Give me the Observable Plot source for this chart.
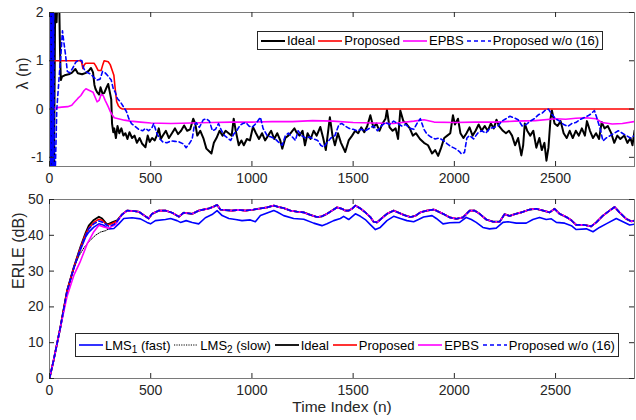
<!DOCTYPE html>
<html><head><meta charset="utf-8">
<script src="https://cdn.jsdelivr.net/npm/d3@7"></script>
<script src="https://cdn.jsdelivr.net/npm/@observablehq/plot@0.6"></script>
<style>
body{margin:0;background:#fff;}
#wrap{position:relative;width:636px;height:420px;font-family:"Liberation Sans",Arial,sans-serif;overflow:hidden;}
#wrap > svg{position:absolute;left:0;}
.legend{position:absolute;display:flex;align-items:center;justify-content:space-between;background:#fff;border:1px solid #262626;box-sizing:border-box;font-size:13px;color:#000;padding:0 3px;white-space:nowrap;}
.item{display:flex;align-items:center;}
.item svg{position:static;margin-right:2px;}
sub{font-size:10px;vertical-align:-3px;line-height:0;}
</style></head>
<body><div id="wrap"></div>
<script>
// ---------- axis ticks ----------
const xTicks = [0, 500, 1000, 1500, 2000, 2500];
const lambdaTicks = [-1, 0, 1, 2];
const erleTicks = [0, 10, 20, 30, 40, 50];

// ---------- top panel: lambda(n) ----------
const lambdaIdeal = [[0,0.5],[3,2.5],[6,-1.5],[9,2.5],[12,-1.5],[15,2.5],[18,-1.5],[22,-1.5],[28,2.3],[35,1.8],[40,2.4],[48,2.2],[52,1.2],[56,0.6],[62,0.67],[75,0.7],[95,0.72],[110,0.75],[128,0.83],[140,0.74],[161,0.72],[180,0.75],[195,0.8],[205,0.85],[215,0.76],[222,0.5],[227,0.42],[235,0.35],[245,0.3],[252,0.45],[262,0.32],[270,0.33],[282,0.45],[290,0.52],[298,0.35],[305,0.2],[309,-0.3],[315,-0.48],[320,-0.4],[328,-0.6],[336,-0.35],[345,-0.5],[355,-0.4],[365,-0.55],[375,-0.5],[385,-0.62],[395,-0.48],[408,-0.6],[420,-0.55],[432,-0.7],[445,-0.6],[458,-0.72],[474,-0.79],[485,-0.55],[495,-0.68],[507,-0.6],[520,-0.65],[530,-0.55],[540,-0.4],[550,-0.62],[560,-0.55],[575,-0.45],[590,-0.6],[605,-0.5],[620,-0.4],[635,-0.52],[650,-0.45],[665,-0.34],[680,-0.45],[695,-0.42],[710,-0.2],[720,-0.3],[730,-0.55],[745,-0.45],[760,-0.6],[775,-0.82],[790,-0.88],[800,-0.92],[812,-0.7],[825,-0.6],[840,-0.45],[855,-0.55],[870,-0.45],[885,-0.5],[900,-0.55],[910,-0.2],[920,-0.45],[935,-0.75],[948,-0.65],[960,-0.75],[975,-0.62],[990,-0.65],[1005,-0.37],[1020,-0.5],[1035,-0.62],[1050,-0.5],[1065,-0.65],[1080,-0.55],[1095,-0.45],[1110,-0.62],[1125,-0.5],[1140,-0.65],[1150,-0.82],[1165,-0.6],[1180,-0.55],[1195,-0.48],[1210,-0.4],[1220,-0.48],[1235,-0.55],[1250,-0.45],[1262,-0.75],[1275,-0.5],[1290,-0.62],[1305,-0.45],[1320,-0.55],[1338,-0.37],[1352,-0.6],[1365,-0.85],[1385,-0.17],[1398,-0.55],[1410,-0.75],[1425,-0.5],[1440,-0.7],[1461,-0.89],[1478,-0.65],[1495,-0.55],[1510,-0.45],[1525,-0.5],[1540,-0.38],[1555,-0.48],[1570,-0.35],[1585,-0.13],[1600,-0.38],[1615,-0.3],[1630,-0.45],[1645,-0.3],[1660,-0.2],[1667,-0.02],[1680,-0.38],[1695,-0.45],[1710,-0.4],[1722,-0.62],[1733,-0.03],[1748,-0.25],[1762,-0.3],[1780,-0.4],[1795,-0.55],[1810,-0.5],[1830,-0.62],[1850,-0.7],[1870,-0.75],[1890,-0.92],[1905,-0.85],[1920,-0.97],[1935,-0.8],[1950,-0.6],[1965,-0.55],[1980,-0.5],[1993,-0.13],[2003,-0.32],[2018,-0.2],[2030,-0.5],[2045,-0.6],[2060,-0.5],[2075,-0.38],[2090,-0.55],[2105,-0.45],[2120,-0.32],[2135,-0.45],[2150,-0.35],[2165,-0.45],[2180,-0.3],[2195,-0.4],[2208,-0.22],[2220,-0.35],[2240,-0.45],[2255,-0.5],[2270,-0.45],[2285,-0.55],[2300,-0.75],[2315,-0.6],[2331,-0.96],[2340,-0.75],[2348,-0.3],[2360,-0.45],[2375,-0.55],[2390,-0.45],[2405,-0.8],[2420,-0.6],[2432,-0.85],[2445,-0.7],[2455,-1.07],[2465,-0.8],[2475,-0.2],[2482,-0.03],[2495,-0.3],[2510,-0.35],[2525,-0.25],[2540,-0.5],[2555,-0.6],[2570,-0.45],[2585,-0.6],[2600,-0.45],[2615,-0.55],[2630,-0.4],[2645,-0.55],[2655,-0.25],[2670,-0.45],[2685,-0.6],[2700,-0.5],[2715,-0.62],[2728,-0.27],[2742,-0.4],[2758,-0.35],[2775,-0.5],[2790,-0.7],[2805,-0.55],[2820,-0.62],[2840,-0.55],[2855,-0.7],[2870,-0.6],[2880,-0.75],[2890,-0.45]];

const lambdaProposed = [[0,1],[150,1],[158,0.98],[165,0.84],[172,0.92],[180,0.95],[220,0.95],[228,0.9],[240,0.8],[255,0.8],[262,0.9],[270,1.0],[290,0.98],[300,0.92],[310,0.8],[318,0.7],[325,0.4],[332,0.15],[340,0.07],[350,0.02],[360,0],[2890,0]];

const lambdaEPBS = [[0,-0.15],[10,-0.05],[20,0.0],[40,0.03],[60,0.04],[90,0.05],[110,0.08],[125,0.15],[140,0.22],[155,0.28],[170,0.38],[180,0.42],[190,0.4],[200,0.38],[215,0.35],[225,0.25],[235,0.15],[245,0.18],[255,0.3],[265,0.28],[275,0.18],[290,0.05],[300,-0.05],[310,-0.12],[320,-0.18],[340,-0.2],[370,-0.23],[400,-0.25],[450,-0.27],[500,-0.29],[600,-0.3],[700,-0.29],[800,-0.28],[900,-0.27],[1000,-0.27],[1100,-0.26],[1200,-0.26],[1300,-0.24],[1400,-0.25],[1500,-0.28],[1600,-0.29],[1700,-0.3],[1800,-0.25],[1850,-0.22],[1900,-0.27],[2000,-0.28],[2100,-0.27],[2200,-0.27],[2300,-0.25],[2400,-0.24],[2500,-0.2],[2550,-0.21],[2600,-0.19],[2650,-0.18],[2700,-0.2],[2730,-0.28],[2780,-0.31],[2830,-0.3],[2890,-0.26]];

const lambdaNo16 = [[0,-1.5],[2,2.5],[5,-1.5],[8,2.5],[11,-1.5],[14,2.5],[17,-1.5],[20,2.5],[23,-1.5],[28,-1.4],[36,0.0],[44,0.45],[50,0.8],[56,1.1],[64,1.62],[72,1.35],[80,1.1],[88,0.78],[100,0.75],[115,0.85],[130,0.97],[145,1.02],[160,1.0],[168,0.85],[178,0.78],[190,0.75],[205,0.72],[220,0.65],[235,0.6],[250,0.62],[262,0.78],[275,0.75],[290,0.68],[305,0.6],[315,0.42],[325,0.35],[335,0.22],[350,0.15],[365,0.05],[380,-0.05],[392,-0.2],[405,-0.3],[420,-0.35],[440,-0.42],[460,-0.45],[474,-0.4],[490,-0.45],[507,-0.38],[515,-0.3],[530,-0.5],[545,-0.62],[560,-0.68],[580,-0.7],[600,-0.66],[620,-0.67],[640,-0.68],[660,-0.72],[675,-0.8],[690,-0.72],[705,-0.62],[715,-0.35],[725,-0.28],[740,-0.38],[760,-0.22],[775,-0.2],[790,-0.25],[805,-0.45],[820,-0.42],[835,-0.3],[850,-0.45],[865,-0.55],[880,-0.6],[895,-0.65],[910,-0.52],[925,-0.45],[940,-0.34],[955,-0.3],[970,-0.28],[985,-0.35],[1000,-0.38],[1020,-0.3],[1042,-0.17],[1055,-0.4],[1075,-0.55],[1095,-0.58],[1115,-0.62],[1130,-0.68],[1150,-0.75],[1165,-0.55],[1180,-0.5],[1200,-0.58],[1215,-0.65],[1228,-0.45],[1245,-0.55],[1265,-0.6],[1285,-0.58],[1305,-0.62],[1325,-0.65],[1340,-0.75],[1355,-0.79],[1370,-0.7],[1390,-0.6],[1410,-0.55],[1430,-0.32],[1445,-0.3],[1460,-0.35],[1480,-0.4],[1500,-0.42],[1520,-0.45],[1540,-0.42],[1560,-0.45],[1580,-0.4],[1600,-0.35],[1620,-0.45],[1640,-0.35],[1660,-0.28],[1680,-0.32],[1700,-0.25],[1720,-0.3],[1740,-0.35],[1760,-0.32],[1780,-0.4],[1800,-0.42],[1815,-0.3],[1832,-0.2],[1850,-0.42],[1865,-0.52],[1885,-0.58],[1905,-0.62],[1925,-0.6],[1945,-0.65],[1965,-0.72],[1985,-0.78],[2005,-0.82],[2025,-0.88],[2035,-0.93],[2050,-0.9],[2062,-0.6],[2075,-0.55],[2095,-0.62],[2115,-0.5],[2135,-0.45],[2155,-0.5],[2175,-0.4],[2195,-0.38],[2215,-0.35],[2235,-0.25],[2255,-0.2],[2275,-0.15],[2295,-0.18],[2315,-0.22],[2335,-0.35],[2355,-0.32],[2375,-0.25],[2395,-0.2],[2415,-0.12],[2435,-0.08],[2450,-0.02],[2465,0.0],[2480,-0.1],[2500,-0.2],[2520,-0.25],[2540,-0.32],[2560,-0.36],[2580,-0.3],[2600,-0.28],[2620,-0.22],[2640,-0.18],[2660,-0.14],[2675,-0.1],[2692,-0.03],[2705,-0.2],[2720,-0.4],[2734,-0.66],[2750,-0.6],[2770,-0.55],[2790,-0.5],[2810,-0.45],[2830,-0.5],[2850,-0.55],[2870,-0.6],[2890,-0.55]];

// ---------- bottom panel: ERLE (dB) ----------
const erleIdealEarly = [[0,0],[20,5],[54,14.4],[87,24.6],[120,31.1],[153,36.8],[178,40.6],[194,42.7],[219,44.3],[244,45.2],[260,44.7],[285,43.0],[309,43.6],[334,44.2]];
const erleProposedEarly = [[0,0],[20,5],[54,14.4],[87,24.6],[120,31.0],[153,36.5],[178,40.2],[194,42.0],[219,43.6],[244,44.5],[260,44.2],[285,42.8],[309,43.3],[334,44.0]];
const erleEPBSEarly = [[0,0],[20,5],[54,14.3],[87,23.0],[120,28.8],[153,32.8],[186,37.6],[219,41.0],[244,42.8],[268,42.3],[293,42.0],[326,43.0]];
const erleNo16Early = [[0,0],[20,5],[54,14.4],[87,24.5],[120,30.9],[153,36.3],[178,39.8],[194,41.8],[219,43.2],[244,44.0],[268,43.5],[293,42.5],[318,43.0],[334,43.9]];
const erleLMS2Early = [[0,0],[20,5],[54,14.4],[87,24.6],[120,31.0],[145,34.2],[170,36.5],[194,38.2],[227,40.0],[252,40.9],[277,41.3],[293,41.8],[309,42.7],[334,44.1]];
const erleLate = [[358,45.8],[383,46.9],[408,46.8],[441,46.6],[474,45.3],[490,44.7],[507,46.0],[540,46.9],[573,46.9],[606,46.3],[639,45.2],[663,46.3],[705,46.0],[737,46.9],[754,47.1],[787,47.5],[811,48.0],[828,48.5],[844,47.2],[877,47.0],[902,46.9],[935,47.1],[968,46.9],[1009,47.2],[1042,47.5],[1075,47.8],[1108,48.3],[1133,47.9],[1157,47.6],[1190,46.9],[1223,46.6],[1256,46.4],[1289,45.7],[1322,45.1],[1346,45.3],[1371,46.0],[1396,46.9],[1420,47.8],[1445,47.4],[1461,46.9],[1478,46.9],[1494,47.4],[1511,48.3],[1536,47.5],[1560,46.4],[1585,45.1],[1601,43.8],[1618,43.6],[1634,44.4],[1667,46.0],[1700,46.9],[1717,46.5],[1750,45.7],[1783,45.1],[1807,45.4],[1832,46.4],[1865,46.9],[1898,47.2],[1911,46.9],[1944,46.0],[1977,45.0],[2010,44.6],[2043,45.0],[2076,46.9],[2100,46.9],[2125,46.0],[2158,44.4],[2191,43.8],[2224,43.8],[2248,45.9],[2273,45.4],[2298,45.9],[2331,46.4],[2372,47.2],[2405,47.4],[2438,46.9],[2471,46.4],[2495,47.4],[2520,46.0],[2553,45.1],[2578,44.2],[2602,42.9],[2643,42.9],[2676,42.5],[2701,43.6],[2734,45.5],[2767,46.9],[2792,47.9],[2816,46.4],[2849,44.6],[2874,43.9],[2890,44.1]];
const erleLMS1 = [[0,0],[20,5],[54,14.3],[87,24.3],[120,30.8],[153,36.0],[178,39.5],[194,40.9],[219,42.3],[244,43.2],[268,42.8],[293,41.8],[318,41.9],[342,43.2],[367,44.7],[408,44.9],[449,44.6],[482,43.6],[499,43.2],[523,44.1],[573,44.4],[598,44.7],[630,44.1],[647,43.6],[675,44.1],[705,43.6],[737,43.2],[770,44.9],[803,45.8],[828,46.9],[853,45.5],[886,44.7],[919,44.4],[951,44.1],[992,44.3],[1017,43.8],[1042,45.5],[1075,46.2],[1108,46.9],[1125,46.5],[1157,45.5],[1206,44.7],[1256,44.5],[1305,43.4],[1346,42.7],[1371,43.2],[1404,44.1],[1437,44.7],[1453,45.3],[1478,44.4],[1511,46.0],[1536,45.3],[1560,44.4],[1585,43.0],[1610,41.6],[1634,42.2],[1667,44.1],[1700,45.3],[1733,44.7],[1766,44.1],[1799,43.8],[1823,44.4],[1848,45.1],[1890,45.5],[1911,44.7],[1944,43.2],[1977,43.5],[2026,43.6],[2059,45.0],[2084,44.4],[2108,43.6],[2141,42.2],[2174,41.8],[2207,42.0],[2240,43.6],[2265,43.8],[2306,43.4],[2355,43.4],[2388,44.4],[2421,45.0],[2454,44.4],[2479,44.6],[2504,43.6],[2545,43.4],[2578,42.7],[2602,41.6],[2652,41.8],[2685,41.0],[2717,42.2],[2750,43.2],[2800,44.7],[2833,43.8],[2866,42.9],[2890,43.1]];

// ---------- drawing ----------
const W = 636, ML = 49, MR = 2, XMAX = 2890;
const FONT = "'Liberation Sans', Arial, sans-serif";

function panel({height, marginTop, marginBottom, yDomain, yTicks, yLabel, yLabelDx, xLabel, series}) {
  const plotW = W - ML - MR, plotH = height - marginTop - marginBottom;
  const tk = 5;
  const marks = [
    ...series.map(s => Plot.line(s.data, {x: d => d[0], y: d => d[1], stroke: s.color, strokeWidth: s.width, strokeDasharray: s.dash, clip: true})),
    Plot.frame({stroke: "#7a7a7a", strokeWidth: 1}),
    Plot.tickX(xTicks, {x: d => d, insetTop: plotH - tk, stroke: "#262626"}),
    Plot.tickX(xTicks, {x: d => d, insetBottom: plotH - tk, stroke: "#262626"}),
    Plot.tickY(yTicks, {y: d => d, insetRight: plotW - tk, stroke: "#262626"}),
    Plot.tickY(yTicks, {y: d => d, insetLeft: plotW - tk, stroke: "#262626"}),
    Plot.axisX({ticks: xTicks, tickSize: 0, tickPadding: 7, fontSize: 14, tickFormat: d => String(d), label: null, fill: "#262626"}),
    Plot.axisY({ticks: yTicks, tickSize: 0, tickPadding: 6, fontSize: 14, tickFormat: d => String(d), label: null, fill: "#262626"}),
    Plot.text([yLabel], {frameAnchor: "left", dx: yLabelDx, rotate: -90, fontSize: 16, fill: "#262626", text: d => d})
  ];
  if (xLabel) marks.push(Plot.text([xLabel], {frameAnchor: "bottom", dy: 33, fontSize: 15.5, fill: "#262626", text: d => d}));
  return Plot.plot({
    width: W, height, marginLeft: ML, marginRight: MR, marginTop, marginBottom,
    style: {fontFamily: FONT, background: "transparent", color: "#262626", overflow: "visible"},
    x: {domain: [0, XMAX], label: null, axis: null},
    y: {domain: yDomain, label: null, axis: null},
    marks
  });
}

const wrap = document.getElementById("wrap");

const topPlot = panel({
  height: 190, marginTop: 12, marginBottom: 24,
  yDomain: [-1.19, 2], yTicks: lambdaTicks, yLabel: "λ (n)", yLabelDx: -27,
  series: [
    {data: lambdaIdeal, color: "#000000", width: 2},
    {data: lambdaProposed, color: "#ff0000", width: 1.6},
    {data: lambdaEPBS, color: "#ff00ff", width: 1.6},
    {data: lambdaNo16, color: "#0000ff", width: 1.6, dash: "4,3"}
  ]
});
topPlot.style.top = "0px";
wrap.appendChild(topPlot);

const bottomPlot = panel({
  height: 230, marginTop: 9, marginBottom: 42,
  yDomain: [0, 50], yTicks: erleTicks, yLabel: "ERLE (dB)", yLabelDx: -31, xLabel: "Time Index (n)",
  series: [
    {data: erleLMS1, color: "#0000ff", width: 1.6},
    {data: erleLMS2Early.concat(erleLate), color: "#000000", width: 1, dash: "1.2,1.2"},
    {data: erleIdealEarly.concat(erleLate), color: "#000000", width: 1.8},
    {data: erleProposedEarly.concat(erleLate), color: "#ff0000", width: 1.6},
    {data: erleEPBSEarly.concat(erleLate), color: "#ff00ff", width: 1.6},
    {data: erleNo16Early.concat(erleLate), color: "#0000ff", width: 1.6, dash: "4,3"}
  ]
});
bottomPlot.style.top = "190px";
wrap.appendChild(bottomPlot);

// ---------- legends ----------
function legend(items, pos) {
  const div = document.createElement("div");
  div.className = "legend";
  Object.assign(div.style, pos);
  for (const it of items) {
    const item = document.createElement("div");
    item.className = "item";
    const ns = "http://www.w3.org/2000/svg";
    const svg = document.createElementNS(ns, "svg");
    svg.setAttribute("width", 24); svg.setAttribute("height", 10);
    const ln = document.createElementNS(ns, "line");
    ln.setAttribute("x1", 0); ln.setAttribute("x2", 24); ln.setAttribute("y1", 5); ln.setAttribute("y2", 5);
    ln.setAttribute("stroke", it.color); ln.setAttribute("stroke-width", it.width);
    if (it.dash) ln.setAttribute("stroke-dasharray", it.dash);
    svg.appendChild(ln);
    item.appendChild(svg);
    const sp = document.createElement("span");
    sp.innerHTML = it.label;
    item.appendChild(sp);
    div.appendChild(item);
  }
  wrap.appendChild(div);
}

legend([
  {label: "Ideal", color: "#000", width: 2},
  {label: "Proposed", color: "#ff0000", width: 1.6},
  {label: "EPBS", color: "#ff00ff", width: 1.6},
  {label: "Proposed w/o (16)", color: "#0000ff", width: 1.6, dash: "4,3"}
], {left: "257px", top: "31px", width: "346px", height: "19px"});

legend([
  {label: "LMS<sub>1</sub> (fast)", color: "#0000ff", width: 1.6},
  {label: "LMS<sub>2</sub> (slow)", color: "#000", width: 1, dash: "1.2,1.2"},
  {label: "Ideal", color: "#000", width: 1.8},
  {label: "Proposed", color: "#ff0000", width: 1.6},
  {label: "EPBS", color: "#ff00ff", width: 1.6},
  {label: "Proposed w/o (16)", color: "#0000ff", width: 1.6, dash: "4,3"}
], {left: "75px", top: "333px", width: "544px", height: "24px"});
</script>
</body></html>
